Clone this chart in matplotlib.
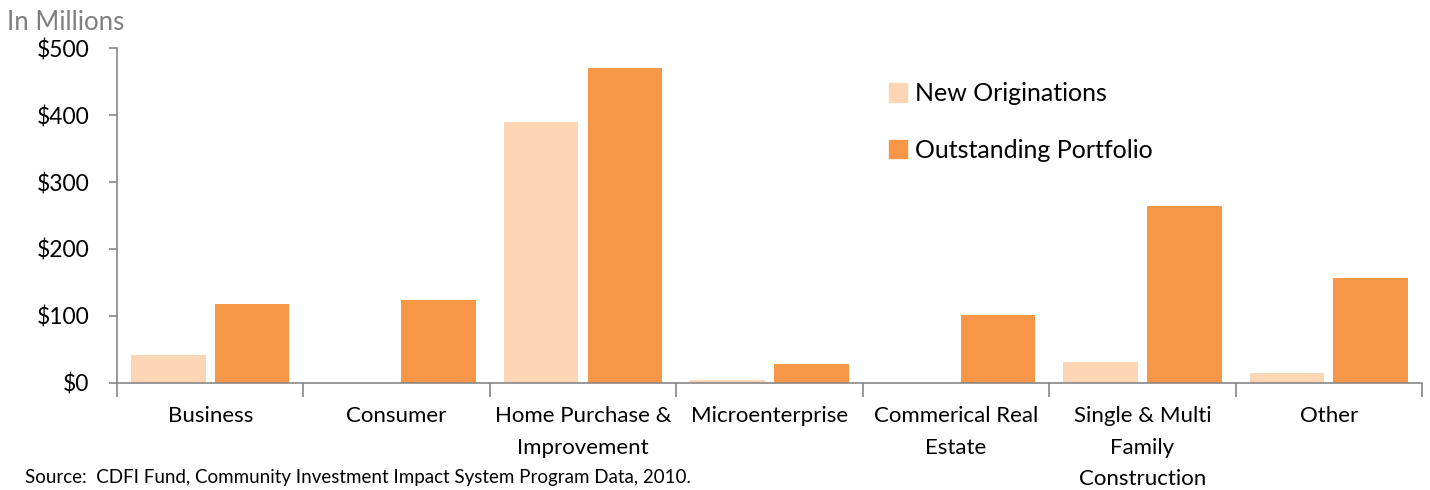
#!/usr/bin/env python3
"""CDFI lending by product type: new originations vs outstanding portfolio."""

import matplotlib

matplotlib.use("Agg")
import matplotlib.pyplot as plt
import numpy as np
from matplotlib.patches import Rectangle

plt.rcParams["font.family"] = ["Lato", "DejaVu Sans"]

CATEGORIES = [
    "Business",
    "Consumer",
    "Home Purchase &\nImprovement",
    "Microenterprise",
    "Commerical Real\nEstate",
    "Single & Multi\nFamily\nConstruction",
    "Other",
]
NEW_ORIGINATIONS = [42, 0, 390, 4, 0, 31, 15]
OUTSTANDING = [118, 124, 470, 28, 102, 264, 156]
Y_TICKS = [0, 100, 200, 300, 400, 500]

NEW_COLOR = "#FCD5B5"
OUT_COLOR = "#F79646"
AXIS_COLOR = "#868686"


def main() -> None:
    fig = plt.figure(figsize=(14.3, 4.9), dpi=100)
    ax = fig.add_axes([0.0818, 0.2184, 0.9126, 0.6836])

    x = np.arange(len(CATEGORIES))
    width = 0.40
    ax.bar(x - 0.225, NEW_ORIGINATIONS, width, color=NEW_COLOR, linewidth=0, label="New Originations")
    ax.bar(x + 0.225, OUTSTANDING, width, color=OUT_COLOR, linewidth=0, label="Outstanding Portfolio")

    ax.set_xlim(-0.5, len(CATEGORIES) - 0.5)
    ax.set_ylim(0, 500)
    ax.set_yticks(Y_TICKS)
    ax.set_yticklabels([f"${v}" for v in Y_TICKS], fontsize=16.5)

    # category labels centred, ticks on the category boundaries
    ax.set_xticks(np.arange(len(CATEGORIES) + 1) - 0.5)
    ax.set_xticklabels([])
    ax.tick_params(axis="x", length=10, width=1.2, color=AXIS_COLOR, direction="out")
    ax.tick_params(axis="y", length=6, width=1.2, color=AXIS_COLOR, direction="out", pad=14)
    for i, name in enumerate(CATEGORIES):
        ax.text(i, -0.07, name, transform=ax.get_xaxis_transform(), ha="center", va="top",
                fontsize=16, linespacing=1.7)

    for side in ("top", "right"):
        ax.spines[side].set_visible(False)
    for side in ("left", "bottom"):
        ax.spines[side].set_color(AXIS_COLOR)
        ax.spines[side].set_linewidth(1.2)

    handles = [
        Rectangle((0, 0), 1, 1, color=NEW_COLOR),
        Rectangle((0, 0), 1, 1, color=OUT_COLOR),
    ]
    ax.legend(handles, ["New Originations", "Outstanding Portfolio"], loc="upper left",
              bbox_to_anchor=(0.574, 0.965), frameon=False, fontsize=18, labelspacing=1.35,
              handlelength=0.75, handleheight=0.75, handletextpad=0.3)

    fig.text(0.005, 0.955, "In Millions", fontsize=18.5, color="#7f7f7f", va="center", ha="left")
    fig.text(0.0175, 0.008, "Source:  CDFI Fund, Community Investment Impact System Program Data, 2010.",
             fontsize=13.5, color="#000000", va="bottom", ha="left")

    fig.savefig("out.png", dpi=100)
    plt.close(fig)


if __name__ == "__main__":
    main()
